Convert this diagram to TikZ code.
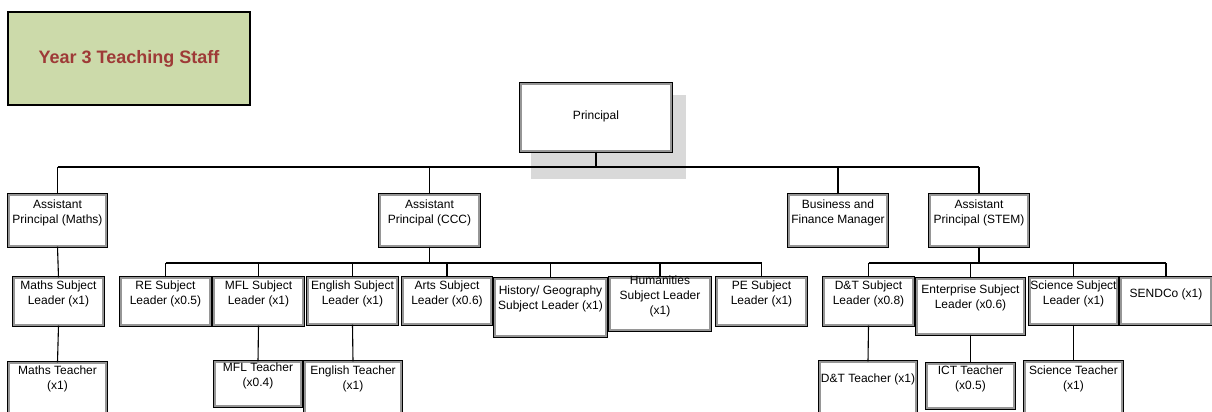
\documentclass[tikz,border=0pt]{standalone}
\usepackage{fontspec}
\setmainfont{Liberation Sans}
\definecolor{titlefill}{RGB}{204,218,170}
\definecolor{titletext}{RGB}{158,58,55}
\definecolor{shadowgray}{RGB}{217,217,217}
\definecolor{rimgray}{RGB}{150,150,150}
% \orgbox{name}{x1}{y1}{x2}{y2}{text centre y}{text}
\newcommand\orgbox[7]{%
  \pgfmathsetmacro\obw{#4-#2-3.5}%
  \pgfmathsetmacro\obh{#5-#3-3.5}%
  \pgfmathsetmacro\obx{(#2+#4)/2}%
  \pgfmathsetmacro\oby{(#3+#5)/2}%
  \node[orgbox, minimum width=\obw, minimum height=\obh] (#1) at (\obx,\oby) {};
  \node[orgtext] (#1-t) at (\obx,#6) {#7};
}
\begin{document}
\begin{tikzpicture}[x=1pt,y=-1pt,
  orgbox/.style={draw=black, line width=0.9pt, double=rimgray, double distance=1.6pt, fill=white, inner sep=0pt},
  orgtext/.style={align=center, font=\fontsize{12}{15}\selectfont, inner sep=0pt},
  link/.style={draw=black, line width=1.1pt},
  titlebox/.style={draw=black, line width=1.6pt, fill=titlefill, text=titletext,
    font=\fontsize{18}{22}\selectfont\bfseries, inner sep=0pt}]
\useasboundingbox (0,0) rectangle (1212,412);
\clip (0,0) rectangle (1212,412);

% heading panel
\node[titlebox, minimum width=242.4, minimum height=93.4] (title) at (129,58.5) {Year 3 Teaching Staff};

% principal with its drop shadow
\fill[shadowgray] (531,95) rectangle (686,179);
\orgbox{principal}{519}{82}{673}{153}{116}{Principal}

% senior team
\orgbox{apm}{7}{193}{108}{248}{213}{Assistant\\Principal (Maths)}
\orgbox{apccc}{378}{193}{481}{248}{213}{Assistant\\Principal (CCC)}
\orgbox{bfm}{787}{193}{889}{248}{213}{Business and\\Finance Manager}
\orgbox{apstem}{928}{193}{1030}{248}{213}{Assistant\\Principal (STEM)}

% subject leaders
\orgbox{msl}{12}{276}{105}{327}{293.5}{Maths Subject\\Leader (x1)}
\orgbox{re}{119}{276}{212}{327}{293.5}{RE Subject\\Leader (x0.5)}
\orgbox{mfl}{212}{276}{305}{327}{293.5}{MFL Subject\\Leader (x1)}
\orgbox{eng}{306}{276}{399}{326}{293.5}{English Subject\\Leader (x1)}
\orgbox{arts}{401}{276}{493}{326}{293.5}{Arts Subject\\Leader (x0.6)}
\orgbox{hist}{493}{277}{608}{338}{299}{History/ Geography\\Subject Leader (x1)}
\orgbox{hum}{608}{276}{712}{332}{296.5}{Humanities\\Subject Leader\\(x1)}
\orgbox{pe}{715}{276}{808}{327}{293.5}{PE Subject\\Leader (x1)}
\orgbox{dtsl}{822}{276}{915}{327}{293.5}{D\&T Subject\\Leader (x0.8)}
\orgbox{ent}{915}{277}{1026}{336}{297.5}{Enterprise Subject\\Leader (x0.6)}
\orgbox{sci}{1028}{276}{1119}{326}{293.5}{Science Subject\\Leader (x1)}
\orgbox{send}{1119}{276}{1213}{326}{294}{SENDCo (x1)}

% teachers
\orgbox{mt}{7}{361}{108}{432}{379}{Maths Teacher\\(x1)}
\orgbox{mflt}{213}{360}{303}{408}{375.5}{MFL Teacher\\(x0.4)}
\orgbox{engt}{303}{360}{403}{432}{379}{English Teacher\\(x1)}
\orgbox{dtt}{818}{360}{918}{432}{379}{D\&T Teacher (x1)}
\orgbox{ict}{925}{362}{1016}{410}{379}{ICT Teacher\\(x0.5)}
\orgbox{scit}{1023}{360}{1124}{432}{379}{Science Teacher\\(x1)}

% connectors: principal to senior team
\coordinate (topbus) at (596,167);
\draw[link] (principal.south) -- (topbus);
\draw[link] (apm.north |- topbus) -- (apstem.north |- topbus);
\foreach \n in {apm,apccc,bfm,apstem}
  \draw[link] (\n.north) -- (\n.north |- topbus);

% maths line
\draw[link] (apm.south) -- (msl.north);
\draw[link] (msl.south) -- (mt.north);

% CCC team
\coordinate (cccbus) at (430,263);
\draw[link] (apccc.south) -- (apccc.south |- cccbus);
\draw[link] (re.north |- cccbus) -- (pe.north |- cccbus);
\foreach \n in {re,mfl,eng,arts,hist,hum,pe}
  \draw[link] (\n.north) -- (\n.north |- cccbus);
\draw[link] (mfl.south) -- (mflt.north);
\draw[link] (eng.south) -- (engt.north);

% STEM team
\coordinate (stembus) at (979,263);
\draw[link] (apstem.south) -- (apstem.south |- stembus);
\draw[link] (dtsl.north |- stembus) -- (send.north |- stembus);
\foreach \n in {dtsl,ent,sci,send}
  \draw[link] (\n.north) -- (\n.north |- stembus);
\draw[link] (dtsl.south) -- (dtt.north);
\draw[link] (ent.south) -- (ict.north);
\draw[link] (sci.south) -- (scit.north);
\end{tikzpicture}
\end{document}
